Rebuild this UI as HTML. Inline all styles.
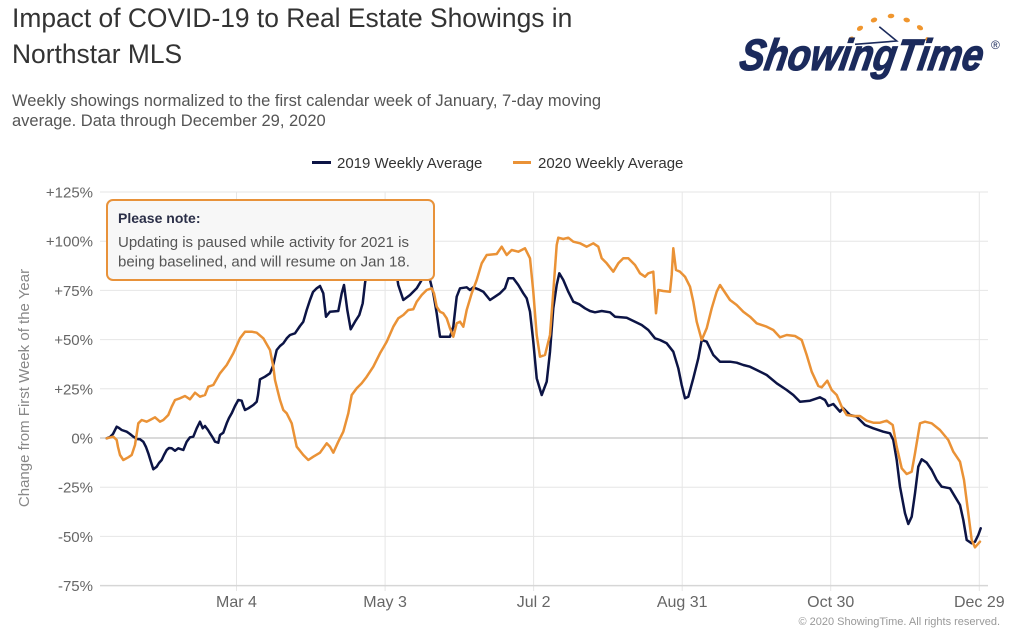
<!DOCTYPE html>
<html>
<head>
<meta charset="utf-8">
<style>
  html, body { margin:0; padding:0; background:#ffffff; }
  body { width:1014px; height:639px; overflow:hidden; }
  svg { display:block; font-family:"Liberation Sans", sans-serif; }
</style>
</head>
<body>
<svg width="1014" height="639" viewBox="0 0 1014 639" xmlns="http://www.w3.org/2000/svg">
  <rect x="0" y="0" width="1014" height="639" fill="#ffffff"/>

  <!-- Title -->
  <text x="12" y="27" font-size="26.4" fill="#333333">Impact of COVID-19 to Real Estate Showings in</text>
  <text x="12" y="63" font-size="26.4" fill="#333333">Northstar MLS</text>
  <!-- Subtitle -->
  <text x="12" y="106" font-size="16.5" fill="#555555">Weekly showings normalized to the first calendar week of January, 7-day moving</text>
  <text x="12" y="126" font-size="16.5" fill="#555555">average. Data through December 29, 2020</text>

  <!-- Logo -->
  <g>
    <ellipse cx="851" cy="39.3" rx="3.3" ry="2.3" fill="#f0962e" transform="rotate(-40 851 39.3)"/>
    <ellipse cx="860" cy="28.3" rx="3.3" ry="2.3" fill="#f0962e" transform="rotate(-30 860 28.3)"/>
    <ellipse cx="874" cy="20" rx="3.3" ry="2.3" fill="#f0962e" transform="rotate(-20 874 20)"/>
    <ellipse cx="891" cy="16" rx="3.3" ry="2.3" fill="#f0962e" transform="rotate(-5 891 16)"/>
    <ellipse cx="906.7" cy="20" rx="3.3" ry="2.3" fill="#f0962e" transform="rotate(15 906.7 20)"/>
    <ellipse cx="920" cy="27.7" rx="3.3" ry="2.3" fill="#f0962e" transform="rotate(30 920 27.7)"/>
    <ellipse cx="928.3" cy="40" rx="3.3" ry="2.3" fill="#f0962e" transform="rotate(45 928.3 40)"/>
    <polyline points="879.3,26.7 896.7,41 855,44.3" fill="none" stroke="#1b2a5c" stroke-width="1.6"/>
    <text x="738" y="70" font-size="44" font-weight="bold" font-style="italic" fill="#1b2a5c" stroke="#1b2a5c" stroke-width="1.2" textLength="243" lengthAdjust="spacingAndGlyphs" transform="skewX(-10) translate(12.3 0)">ShowingTime</text>
    <text x="991" y="49" font-size="12" fill="#1b2a5c">®</text>
  </g>

  <!-- Legend -->
  <line x1="312" y1="162.5" x2="331" y2="162.5" stroke="#0c1445" stroke-width="3"/>
  <text x="337" y="168" font-size="15" fill="#333333">2019 Weekly Average</text>
  <line x1="513" y1="162.5" x2="531" y2="162.5" stroke="#ea9236" stroke-width="3"/>
  <text x="538" y="168" font-size="15" fill="#333333">2020 Weekly Average</text>

  <!-- Horizontal gridlines -->
  <g stroke="#e6e6e6" stroke-width="1">
    <line x1="100" y1="192" x2="988" y2="192"/>
    <line x1="100" y1="241.2" x2="988" y2="241.2"/>
    <line x1="100" y1="290.4" x2="988" y2="290.4"/>
    <line x1="100" y1="339.6" x2="988" y2="339.6"/>
    <line x1="100" y1="388.8" x2="988" y2="388.8"/>
    <line x1="100" y1="487.2" x2="988" y2="487.2"/>
    <line x1="100" y1="536.4" x2="988" y2="536.4"/>
  </g>
  <!-- Vertical gridlines -->
  <g stroke="#e6e6e6" stroke-width="1">
    <line x1="236.5" y1="192" x2="236.5" y2="591"/>
    <line x1="385.1" y1="192" x2="385.1" y2="591"/>
    <line x1="533.6" y1="192" x2="533.6" y2="591"/>
    <line x1="682.2" y1="192" x2="682.2" y2="591"/>
    <line x1="830.7" y1="192" x2="830.7" y2="591"/>
    <line x1="979.3" y1="192" x2="979.3" y2="591"/>
  </g>
  <!-- zero line & axis line -->
  <line x1="100" y1="438" x2="988" y2="438" stroke="#c4c4c4" stroke-width="1.2"/>
  <line x1="100" y1="585.6" x2="988" y2="585.6" stroke="#d6d6d6" stroke-width="1.5"/>

  <!-- Y labels -->
  <g font-size="15" fill="#666666" text-anchor="end">
    <text x="93" y="197.5">+125%</text>
    <text x="93" y="246.7">+100%</text>
    <text x="93" y="295.9">+75%</text>
    <text x="93" y="345.1">+50%</text>
    <text x="93" y="394.3">+25%</text>
    <text x="93" y="443.5">0%</text>
    <text x="93" y="492.7">-25%</text>
    <text x="93" y="541.9">-50%</text>
    <text x="93" y="591.1">-75%</text>
  </g>
  <!-- Y title -->
  <text transform="translate(29 388) rotate(-90)" text-anchor="middle" font-size="15" fill="#888888">Change from First Week of the Year</text>

  <!-- X labels -->
  <g font-size="16" fill="#666666" text-anchor="middle">
    <text x="236.5" y="607">Mar 4</text>
    <text x="385.1" y="607">May 3</text>
    <text x="533.6" y="607">Jul 2</text>
    <text x="682.2" y="607">Aug 31</text>
    <text x="830.7" y="607">Oct 30</text>
    <text x="979.3" y="607">Dec 29</text>
  </g>

  <!-- 2019 series -->
  <polyline fill="none" stroke="#0c1445" stroke-width="2.5" stroke-linejoin="round" stroke-linecap="round" points="
106.7,438.3 110,437 113,434 116.7,426.7 119,428 121.7,430 126.7,431.7 130,434 133.3,436.7 137,439 140,439.3 143.3,441.7 146,447 148.3,453.3 151,462 153.3,469.3 156.7,466.7 159,463 161.7,460 164,455 166.7,450 169,448 171.7,448.3 175,450.7 178.3,448.3 183.3,450 186.7,441.7 190,437.3 193.3,436.7 196.7,428.3 200,421.7 202.7,428.3 205,426 208,430 210,433.3 213,438 215,441.7 218.3,442.7 220,435 223.3,432.7 226.7,423.3 229,418 231.7,413.3 235,406 238.3,400 241.7,400.7 243,405 245,410 248.3,408.3 253.3,405 256.7,401.7 258,395 260,379.3 265,376.7 270,373.3 273,366 276.7,350 280,346 283.3,343.3 287,338 290,335 295,333.3 300,326 303.3,321.7 306.7,310 310,300 313,292 316.7,288.3 320,286 323.3,293.3 326,316.7 330,311.7 338.3,311 341.7,293.3 344,285 347.3,310 350.7,329.3 355,321.7 359.3,315 362.7,303.3 365,283.3 367,270 370,255 380,250 390,255 396,270 398.3,285 403.3,300 410,295 416.7,288.3 421.7,280 426,272 430,280 433.3,293.3 436.7,313.3 440,336.7 446.7,336.7 450,336.7 453.3,326.7 456.7,296.7 460,288.3 466.7,287.3 470,290 473.3,287.3 478.3,289.3 483.3,291.7 490,300 495,296.7 500,293.3 505,288.3 508.3,278.3 513.3,278.3 518.3,285 523.3,293.3 526.7,298.3 530,311.7 533.3,341.7 536.7,378.3 541.7,395 546.7,381.7 550,351.7 553.3,308.3 556.7,285 559.3,273.3 563.3,280 568.3,291.7 573.3,301.7 579.3,304.3 585,308.3 590,311 595,312.3 601.7,311 610,312.3 615,316.7 626.7,317.7 635,321.7 641.7,325 648.3,330 655,338.3 660,340 666.7,343.3 673.3,351.7 678.3,368.3 681.7,385 685,398.3 688.3,396.7 693.3,378.3 698.3,358.3 701.7,340 706.7,341.7 713.3,355 720,361.7 730,361.7 736.7,362.7 743.3,365 750,366.7 756.7,370 766.7,375 776.7,383.3 786.7,390 793.3,395 800,401.7 810,400.7 820,397.3 825,400 828.3,406 833.3,404 840,411.7 843,408 845,410 850,415 856.7,416.7 865,425 873.3,428.3 883.3,431.7 890,433.3 893.3,440 896.7,460 900,486.7 905,513.3 908.3,524 911.7,516.7 915,493.3 918.3,466.7 921.7,459.3 926.7,462.7 931.7,470 936.7,480 941.7,486.7 950,488.3 955,496.7 960,505 963.3,520 966.7,540 971.7,543.3 975,541.7 978.3,535 980.7,528.3"/>

  <!-- 2020 series -->
  <polyline fill="none" stroke="#ea9236" stroke-width="2.5" stroke-linejoin="round" stroke-linecap="round" points="
106.7,438.3 113.3,436.7 116.7,440 118,447 120,455 123.3,460 128.3,457.3 131.7,455 135,445 138.3,423.3 141.7,420 146.7,421.7 150,420 155,417.3 160,421.7 163.3,420 168.3,415 171.7,406.7 175,400 180,398.3 185,396 190,399.3 195,392.7 200,396.7 205,395 208.3,386.7 213.3,385 220,373.3 226.7,365 233.3,353.3 240,338.3 245,331.7 251.7,331.7 256.7,332.7 263.3,338.3 270,350 273.3,366.7 275,380 278.3,393.3 280,400 283.3,410 286.7,413.3 291.7,423.3 296.7,446.7 303.3,455 308.3,460 313.3,456.7 320,452.7 326.7,443.3 330,446.7 333.3,452.7 338.3,441.7 343.3,431.7 348.3,413.3 351.7,395 356.7,388.3 361.7,383.3 366.7,376.7 373.3,366.7 380,353.3 386.7,341.7 393.3,326.7 398.3,318.3 403.3,315 408.3,310 413.3,309.3 416.7,301.7 421.7,295 426.7,290 431.7,288.3 434,293.3 436.7,306.7 440,311.7 443.3,313.3 446.7,318.3 450,328.3 453.3,336.7 456.7,323.3 460,321.7 463.3,326.7 466.7,310 471.7,293.3 476.7,280 481.7,263.3 486.7,255 496.7,254 501.7,246.7 506.7,255 511.7,250 518.3,251.7 525,248.3 530,258.3 533.3,291.7 536.7,335 540,356.7 545,355 550,335 553.3,291.7 556.7,245 558.3,237.7 563.3,239 568.3,237.7 573.3,241.7 580,243.3 586.7,246.7 593.3,243.3 598.3,246.7 601.7,258.3 606.7,263.3 613.3,271.7 618.3,263.3 623.3,258.3 628.3,258.3 635,265 640,273.3 645,276.7 648.3,273.3 653.3,271.7 656,313.3 658.3,290 663.3,291 670,291.7 671.7,275 673.3,248.3 676,270 680,271.7 685,276.7 690,286.7 693.3,301.7 696.7,321.7 701.7,340 706.7,328.3 711.7,308.3 716.7,291.7 720,285 723.3,290 730,300 736.7,305 743.3,311.7 750,316.7 756.7,323.3 766.7,326.7 773.3,330 780,337.3 786.7,335 795,336 801.7,340 806.7,355 811.7,371.7 818.3,386 821.7,387.3 827.3,380.7 831.7,390 836.7,395 841.7,406.7 846.7,415 853.3,416 860,416 866.7,420.7 873.3,422.7 880,422.7 886.7,420.7 892.7,425 896.7,446.7 901.7,468.3 906.7,474 911.7,471.7 915,453.3 920,423.3 925,421.7 931.7,423.3 940,430 948.3,440 953.3,451.7 960,461.7 964,480 968.3,513.3 971.7,540 975,547.3 980,541.7"/>

  <!-- Note box -->
  <rect x="107" y="200" width="327" height="80" rx="6" ry="6" fill="#f7f7f7" stroke="#e8923a" stroke-width="2"/>
  <text x="118" y="223" font-size="14" font-weight="bold" fill="#2b2f48">Please note:</text>
  <text x="118" y="247" font-size="15" fill="#555555">Updating is paused while activity for 2021 is</text>
  <text x="118" y="266.5" font-size="15" fill="#555555">being baselined, and will resume on Jan 18.</text>

  <!-- Copyright -->
  <text x="1000" y="625" font-size="11" fill="#999999" text-anchor="end">© 2020 ShowingTime. All rights reserved.</text>
</svg>
</body>
</html>
